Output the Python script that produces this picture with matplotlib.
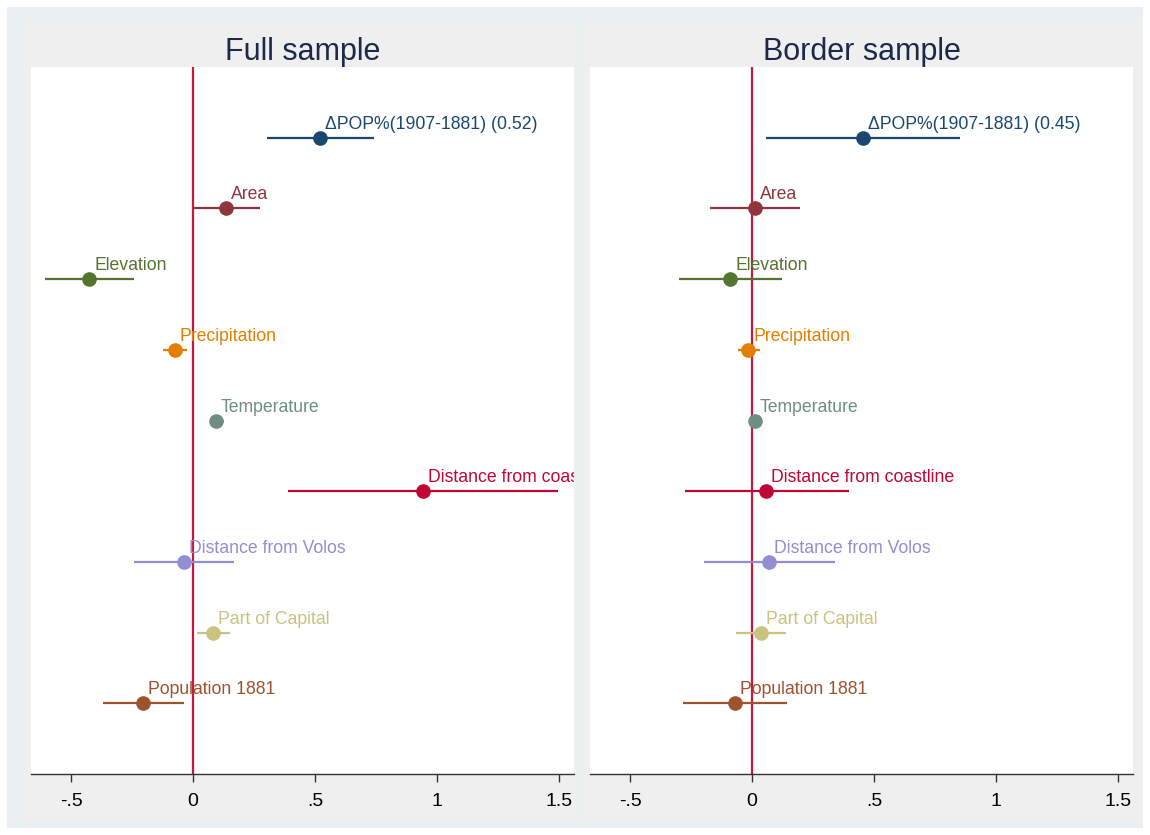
import numpy as np
import matplotlib
matplotlib.use('Agg')
import matplotlib.pyplot as plt
from matplotlib.patches import Rectangle

plt.rcParams['font.family'] = ['Liberation Sans', 'DejaVu Sans']

# variable labels (top to bottom)
names = ['ΔPOP%(1907-1881)', 'Area', 'Elevation', 'Precipitation', 'Temperature',
         'Distance from coastline', 'Distance from Volos', 'Part of Capital',
         'Population 1881']
colors = ['#1A476F', '#90353B', '#55752F', '#E37E00', '#6E8E84',
          '#C10534', '#938DD2', '#CAC27E', '#A0522D']

# Full sample: coefficient and 95% CI
full_coef = [0.52, 0.135, -0.426, -0.074, 0.094, 0.943, -0.037, 0.082, -0.205]
full_lo = [0.303, -0.004, -0.607, -0.123, 0.070, 0.389, -0.242, 0.016, -0.369]
full_hi = [0.742, 0.275, -0.242, -0.025, 0.127, 1.496, 0.168, 0.152, -0.037]

# Border sample
border_coef = [0.455, 0.012, -0.090, -0.016, 0.012, 0.057, 0.070, 0.037, -0.070]
border_lo = [0.057, -0.172, -0.299, -0.057, 0.003, -0.275, -0.197, -0.066, -0.283]
border_hi = [0.852, 0.197, 0.123, 0.033, 0.022, 0.398, 0.340, 0.139, 0.143]

full_r2 = '0.52'
border_r2 = '0.45'

xticks = [-0.5, 0, 0.5, 1, 1.5]
xticklabels = ['-.5', '0', '.5', '1', '1.5']

W, H = 1150, 835
fig = plt.figure(figsize=(W / 100, H / 100), dpi=100, facecolor='white')

# background frames
fig.patches.append(Rectangle((7 / W, 7 / H), 1 - 14 / W, 1 - 14 / H,
                             transform=fig.transFigure, facecolor='#EAF0F2',
                             edgecolor='none', zorder=-3))
fig.patches.append(Rectangle((22 / W, 14 / H), 556 / W, 1 - 36 / H,
                             transform=fig.transFigure, facecolor='#EFEFEF',
                             edgecolor='none', zorder=-2))
fig.patches.append(Rectangle((581 / W, 14 / H), 562 / W, 1 - 36 / H,
                             transform=fig.transFigure, facecolor='#EFEFEF',
                             edgecolor='none', zorder=-2))

panels = [
    (31, 'Full sample', full_coef, full_lo, full_hi, full_r2),
    (590, 'Border sample', border_coef, border_lo, border_hi, border_r2),
]

ypos = np.arange(1, len(names) + 1)

for x0, title, coef, lo, hi, r2 in panels:
    ax = fig.add_axes([x0 / W, (H - 774) / H, 543 / W, 707 / H])
    ax.set_facecolor('white')
    ax.axvline(0, color='#C8193C', lw=1.6, zorder=1)
    for i, nm in enumerate(names):
        y = ypos[i]
        ax.plot([lo[i], hi[i]], [y, y], color=colors[i], lw=1.6, zorder=2,
                solid_capstyle='butt')
        ax.plot(coef[i], y, 'o', color=colors[i], ms=9.5, zorder=3)
        lab = nm + ' (' + r2 + ')' if i == 0 else nm
        ax.annotate(lab, (coef[i], y), xytext=(5, 5), textcoords='offset pixels',
                    color=colors[i], fontsize=12.7, ha='left', va='bottom',
                    annotation_clip=False, clip_on=True)
    ax.set_xlim(-0.664, 1.561)
    ax.set_ylim(len(names) + 1, 0)
    ax.set_yticks([])
    ax.set_xticks(xticks)
    ax.set_xticklabels(xticklabels, fontsize=14)
    ax.tick_params(axis='x', direction='out', length=6, width=1, color='#333333',
                   pad=8)
    for s in ['top', 'left', 'right']:
        ax.spines[s].set_visible(False)
    ax.spines['bottom'].set_color('#333333')
    ax.spines['bottom'].set_linewidth(1)
    ax.set_title(title, fontsize=22, color='#1C2A48', pad=5)

fig.savefig('out.png', dpi=100, facecolor='white')
